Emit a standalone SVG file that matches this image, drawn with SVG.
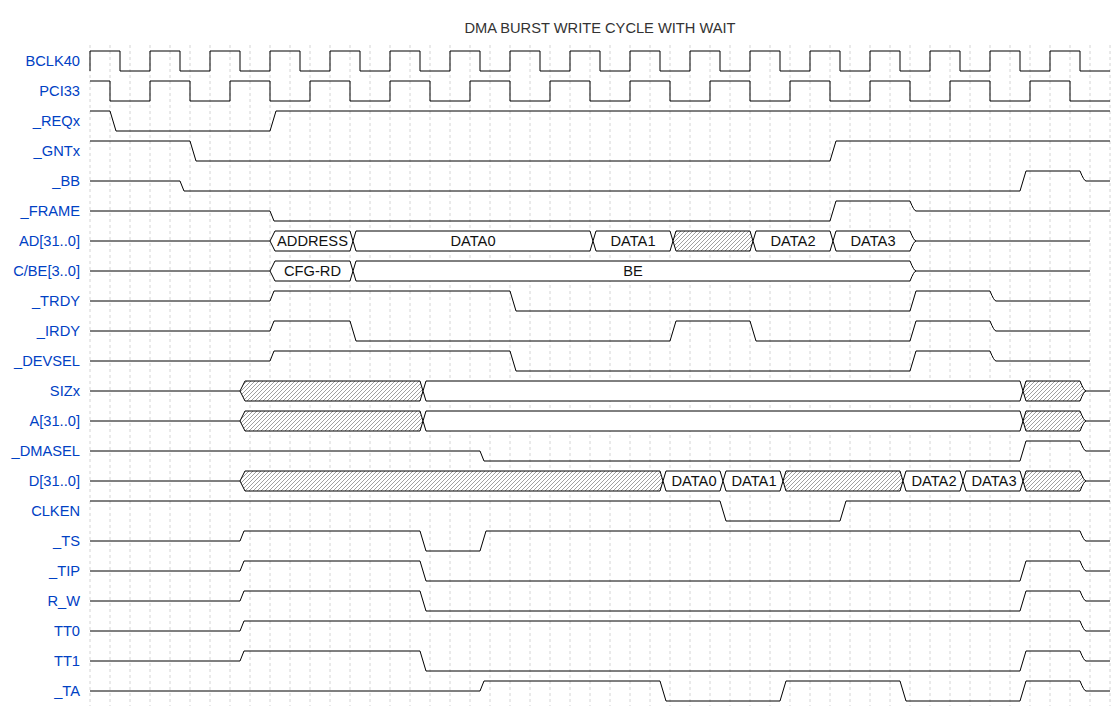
<svg xmlns="http://www.w3.org/2000/svg" width="1120" height="706" viewBox="0 0 1120 706">
<style>
.lbl{font-family:"Liberation Sans",Arial,sans-serif;font-size:14.67px;fill:#0041c4;text-anchor:end}
.txt{font-family:"Liberation Sans",Arial,sans-serif;font-size:14.67px;fill:#111;text-anchor:middle}
.ttl{font-family:"Liberation Sans",Arial,sans-serif;font-size:14.67px;fill:#333;text-anchor:middle}
.w{fill:none;stroke:#000;stroke-width:1}
.b{fill:#fff;stroke:#000;stroke-width:1}
.h{fill:url(#hatch);stroke:#000;stroke-width:1}
.grid{fill:none;stroke:#d4d4d4;stroke-width:1;stroke-dasharray:3 3}
</style>
<defs>
<pattern id="hatch" patternUnits="userSpaceOnUse" width="4" height="4">
<rect width="4" height="4" fill="#fff"/>
<path d="M-1,1 l2,-2 M0,4 l4,-4 M3,5 l2,-2" stroke="#888" stroke-width="0.8"/>
</pattern>
</defs>
<rect width="1120" height="706" fill="#fff"/>
<text class="ttl" x="600" y="33">DMA BURST WRITE CYCLE WITH WAIT</text>
<g id="grid">
<path class="grid" d="M90,45V706M110,45V706M130,45V706M150,45V706M170,45V706M190,45V706M210,45V706M230,45V706M250,45V706M270,45V706M290,45V706M310,45V706M330,45V706M350,45V706M370,45V706M390,45V706M410,45V706M430,45V706M450,45V706M470,45V706M490,45V706M510,45V706M530,45V706M550,45V706M570,45V706M590,45V706M610,45V706M630,45V706M650,45V706M670,45V706M690,45V706M710,45V706M730,45V706M750,45V706M770,45V706M790,45V706M810,45V706M830,45V706M850,45V706M870,45V706M890,45V706M910,45V706M930,45V706M950,45V706M970,45V706M990,45V706M1010,45V706M1030,45V706M1050,45V706M1070,45V706M1090,45V706M1110,45V706"/>
</g>
<g id="connectors"></g>
<g id="BCLK40"><text class="lbl" x="80" y="66">BCLK40</text>
<path class="w" d="M90,71V51H120V71H150V51H180V71H210V51H240V71H270V51H300V71H330V51H360V71H390V51H420V71H450V51H480V71H510V51H540V71H570V51H600V71H630V51H660V71H690V51H720V71H750V51H780V71H810V51H840V71H870V51H900V71H930V51H960V71H990V51H1020V71H1050V51H1080V71H1110"/></g>
<g id="PCI33"><text class="lbl" x="80" y="96">PCI33</text>
<path class="w" d="M90,81H110V101H150V81H190V101H230V81H270V101H310V81H350V101H390V81H430V101H470V81H510V101H550V81H590V101H630V81H670V101H710V81H750V101H790V81H830V101H870V81H910V101H950V81H990V101H1030V81H1070V101H1110"/></g>
<g id="REQx"><text class="lbl" x="80" y="126">_REQx</text>
<path class="w" d="M90,111H110L116,131H270L276,111H1110"/></g>
<g id="GNTx"><text class="lbl" x="80" y="156">_GNTx</text>
<path class="w" d="M90,141H190L196,161H830L836,141H1110"/></g>
<g id="BB"><text class="lbl" x="80" y="186">_BB</text>
<path class="w" d="M90,181H180L184,191H1020L1026,171H1080Q1084,181 1086,181H1110"/></g>
<g id="FRAME"><text class="lbl" x="80" y="216">_FRAME</text>
<path class="w" d="M90,211H270L274,221H830L836,201H910Q914,211 916,211H1110"/></g>
<g id="AD"><text class="lbl" x="80" y="246">AD[31..0]</text>
<path class="w" d="M90,241H270M916,241H1090"/>
<path class="b" d="M270,241L275,231H350L353,241L350,251H275Z"/>
<path class="b" d="M353,241L356,231H590L593,241L590,251H356Z"/>
<path class="b" d="M593,241L596,231H670L673,241L670,251H596Z"/>
<path class="h" d="M673,241L676,231H750L753,241L750,251H676Z"/>
<path class="b" d="M753,241L756,231H830L833,241L830,251H756Z"/>
<path class="b" d="M833,241L836,231H910Q914,241 916,241Q914,241 910,251H836Z"/>
<text class="txt" x="312.5" y="246">ADDRESS</text>
<text class="txt" x="473" y="246">DATA0</text>
<text class="txt" x="633" y="246">DATA1</text>
<text class="txt" x="793" y="246">DATA2</text>
<text class="txt" x="873" y="246">DATA3</text></g>
<g id="CBE"><text class="lbl" x="80" y="276">C/BE[3..0]</text>
<path class="w" d="M90,271H270M916,271H1090"/>
<path class="b" d="M270,271L275,261H350L353,271L350,281H275Z"/>
<path class="b" d="M353,271L356,261H910Q914,271 916,271Q914,271 910,281H356Z"/>
<text class="txt" x="312.5" y="276">CFG-RD</text>
<text class="txt" x="633" y="276">BE</text></g>
<g id="TRDY"><text class="lbl" x="80" y="306">_TRDY</text>
<path class="w" d="M90,301H270L274,291H510L516,311H910L916,291H990Q994,301 996,301H1090"/></g>
<g id="IRDY"><text class="lbl" x="80" y="336">_IRDY</text>
<path class="w" d="M90,331H270L274,321H350L356,341H670L676,321H750L756,341H910L916,321H990Q994,331 996,331H1090"/></g>
<g id="DEVSEL"><text class="lbl" x="80" y="366">_DEVSEL</text>
<path class="w" d="M90,361H270L274,351H510L516,371H910L916,351H990Q994,361 996,361H1090"/></g>
<g id="SIZx"><text class="lbl" x="80" y="396">SIZx</text>
<path class="w" d="M90,391H240M1086,391H1110"/>
<path class="h" d="M240,391L245,381H420L423,391L420,401H245Z"/>
<path class="b" d="M423,391L426,381H1020L1023,391L1020,401H426Z"/>
<path class="h" d="M1023,391L1026,381H1080Q1084,391 1086,391Q1084,391 1080,401H1026Z"/></g>
<g id="A"><text class="lbl" x="80" y="426">A[31..0]</text>
<path class="w" d="M90,421H240M1086,421H1110"/>
<path class="h" d="M240,421L245,411H420L423,421L420,431H245Z"/>
<path class="b" d="M423,421L426,411H1020L1023,421L1020,431H426Z"/>
<path class="h" d="M1023,421L1026,411H1080Q1084,421 1086,421Q1084,421 1080,431H1026Z"/></g>
<g id="DMASEL"><text class="lbl" x="80" y="456">_DMASEL</text>
<path class="w" d="M90,451H480L484,461H1020L1026,441H1080Q1084,451 1086,451H1110"/></g>
<g id="D"><text class="lbl" x="80" y="486">D[31..0]</text>
<path class="w" d="M90,481H240M1086,481H1110"/>
<path class="h" d="M240,481L245,471H660L663,481L660,491H245Z"/>
<path class="b" d="M663,481L666,471H720L723,481L720,491H666Z"/>
<path class="b" d="M723,481L726,471H780L783,481L780,491H726Z"/>
<path class="h" d="M783,481L786,471H900L903,481L900,491H786Z"/>
<path class="b" d="M903,481L906,471H960L963,481L960,491H906Z"/>
<path class="b" d="M963,481L966,471H1020L1023,481L1020,491H966Z"/>
<path class="h" d="M1023,481L1026,471H1080Q1084,481 1086,481Q1084,481 1080,491H1026Z"/>
<text class="txt" x="694" y="486">DATA0</text>
<text class="txt" x="754" y="486">DATA1</text>
<text class="txt" x="934" y="486">DATA2</text>
<text class="txt" x="994" y="486">DATA3</text></g>
<g id="CLKEN"><text class="lbl" x="80" y="516">CLKEN</text>
<path class="w" d="M90,501H720L726,521H840L846,501H1110"/></g>
<g id="TS"><text class="lbl" x="80" y="546">_TS</text>
<path class="w" d="M90,541H240L244,531H420L426,551H480L486,531H1080Q1084,541 1086,541H1110"/></g>
<g id="TIP"><text class="lbl" x="80" y="576">_TIP</text>
<path class="w" d="M90,571H240L244,561H420L426,581H1020L1026,561H1080Q1084,571 1086,571H1110"/></g>
<g id="R_W"><text class="lbl" x="80" y="606">R_W</text>
<path class="w" d="M90,601H240L244,591H420L426,611H1020L1026,591H1080Q1084,601 1086,601H1110"/></g>
<g id="TT0"><text class="lbl" x="80" y="636">TT0</text>
<path class="w" d="M90,631H240L244,621H1080Q1084,631 1086,631H1110"/></g>
<g id="TT1"><text class="lbl" x="80" y="666">TT1</text>
<path class="w" d="M90,661H240L244,651H420L426,671H1020L1026,651H1080Q1084,661 1086,661H1110"/></g>
<g id="TA"><text class="lbl" x="80" y="696">_TA</text>
<path class="w" d="M90,691H480L484,681H660L666,701H780L786,681H900L906,701H1020L1026,681H1080Q1084,691 1086,691H1110"/></g>
</svg>
